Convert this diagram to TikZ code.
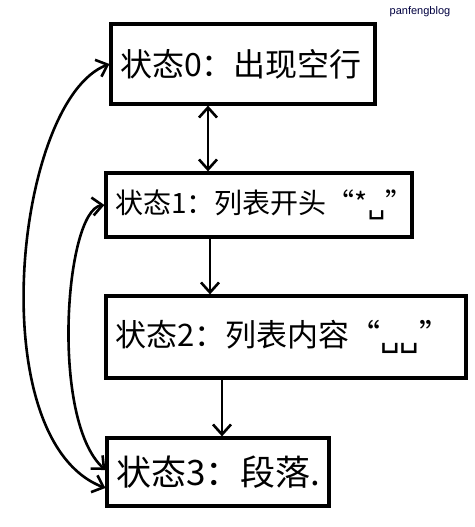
\documentclass[tikz,border=0pt]{standalone}
\usepackage{fontspec}
\newfontfamily\cjk{Noto Sans CJK SC}
\newfontfamily\symfont{DejaVu Sans}
\setsansfont{Liberation Sans}
\usetikzlibrary{arrows.meta}
\tikzset{
	statebox/.style={draw,line width=3.2pt,inner xsep=9pt,inner ysep=0pt,align=left},
	flow/.style={line width=2.6pt,{Straight Barb[length=10pt,width=18pt]}-{Straight Barb[length=10pt,width=18pt]}},
	down/.style={line width=2.6pt,-{Straight Barb[length=10pt,width=18pt]}}
}
\newcommand{\vsp}{{\symfont ␣}}
\begin{document}
\begin{tikzpicture}[x=1pt,y=-1pt]
		  \useasboundingbox[fill=white] (0,0) rectangle (474,527);
		  \node[statebox,text width=246pt,minimum height=80pt,font=\cjk\fontsize{32}{34}\selectfont] (s0) at (243,64) {状态0：出现空行};
		  \node[statebox,text width=288pt,minimum height=64pt,font=\cjk\fontsize{28}{30}\selectfont] (s1) at (259,205) {状态1：列表开头“*\vsp”};
		  \node[statebox,text width=342pt,minimum height=82pt,font=\cjk\fontsize{31}{33}\selectfont] (s2) at (286,337) {状态2：列表内容“\vsp\vsp”};
		  \node[statebox,text width=204pt,minimum height=68pt,font=\cjk\fontsize{35}{37}\selectfont] (s3) at (218,472) {状态3：段落.};
		  \node[font=\sffamily\fontsize{11}{12}\selectfont,text=black!75!blue] (mark) at (420,12) {panfengblog};
		  \draw[flow] ([xshift=-35pt]s0.south) -- ([xshift=-35pt]s0.south |- s1.north);
		  \draw[down] ([xshift=-49pt]s1.south) -- ([xshift=-49pt]s1.south |- s2.north);
		  \draw[down] ([xshift=4pt]s3.north |- s2.south) -- ([xshift=4pt]s3.north);
		  \draw[flow] (s0.west) .. controls (15,100) and (-20,440) .. ([yshift=-16pt]s3.west);
		  \draw[flow] (s1.west) .. controls (65,210) and (50,420) .. ([yshift=2pt]s3.west);
\end{tikzpicture}
\end{document}
